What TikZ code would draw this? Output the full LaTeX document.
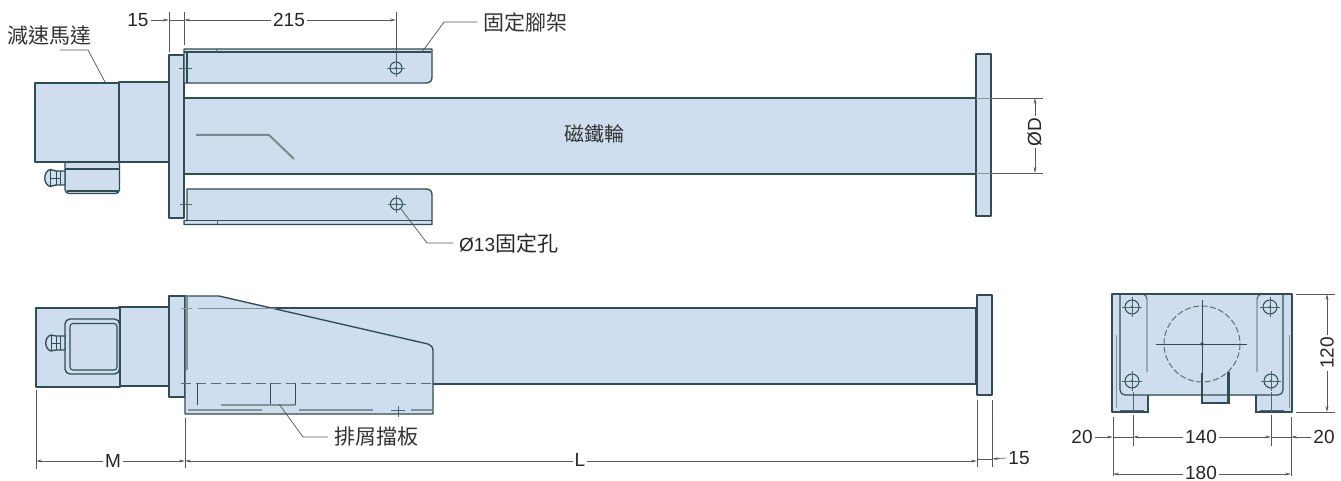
\documentclass[tikz,border=0pt]{standalone}
\usepackage{fontspec}
\setmainfont{Liberation Sans}
\newfontfamily\cjk{Noto Sans CJK TC}
\usetikzlibrary{arrows.meta}
\definecolor{bodyblue}{HTML}{CFDEEF}
\definecolor{edge}{HTML}{2F4D53}
\definecolor{dimc}{HTML}{555A5C}
\tikzset{
  part/.style={draw=edge,fill=bodyblue,line width=1.35pt,line join=round},
  edgeline/.style={draw=edge,line width=1.2pt},
  thin part/.style={draw=edge,line width=.9pt},
  hidden/.style={draw=edge!80!white,line width=1pt,dash pattern=on 7pt off 3pt},
  greyline/.style={draw=edge!60!white,line width=1.2pt},
  centre/.style={draw=edge!85!white,line width=.7pt},
  ext/.style={draw=dimc,line width=.65pt},
  dimn/.style={draw=dimc,line width=.65pt,{Stealth[length=6pt,width=2.8pt]}-{Stealth[length=6pt,width=2.8pt]}},
  dimr/.style={draw=dimc,line width=.65pt,-{Stealth[length=6pt,width=2.8pt]}},
  lead/.style={draw=dimc,line width=.75pt},
  lab/.style={font=\fontsize{19}{19}\selectfont,text=black!85,inner sep=2pt},
  dimlab/.style={lab,fill=white},
  cjklab/.style={font=\cjk\fontsize{21}{21}\selectfont,text=black!80,inner sep=0pt,anchor=west},
  hole/.style={draw=edge,line width=1pt},
}
\newcommand{\holemark}[3]{%
  \draw[hole] (#1,#2) circle (#3);
  \fill[edge] (#1,#2) circle (1.4);
  \draw[centre] (#1-#3-3,#2) -- (#1+#3+3,#2) (#1,#2-#3-3) -- (#1,#2+#3+3);
}
\begin{document}
\begin{tikzpicture}[x=1pt,y=-1pt]
\useasboundingbox[fill=white] (0,0) rectangle (1341,481);

%% ---------- plan view ----------
% junction box
\draw[part,rounded corners=4pt] (65,160) -- (65,193.5) -- (119.5,193.5) -- (119.5,160);
\draw[edgeline] (65,169) -- (119,169);
\draw[edgeline] (67,191) -- (118,191);
% motor
\draw[part] (119,82) rectangle (169,162);
\draw[part] (35,83) rectangle (119,162);
% plug
\draw[part] (65,171) -- (56,171) -- (50,169.5) .. controls (43,172) and (43,184) .. (50,186.5) -- (56,185) -- (65,185) -- cycle;
\draw[thin part] (50,170) -- (50,186) (56,171) -- (56,185) (60,171) -- (60,185) (50,178) -- (60,178);
% wheel
\draw[part] (184,98) rectangle (976,174);
% flanges
\draw[part] (169,55) rectangle (184,218);
\draw[part] (976,54) rectangle (991,216);
\draw[greyline,line width=.9pt] (976,98) -- (991,98) (976,173) -- (991,173);
% brackets
\draw[part] (184,49) -- (432,49) -- (432,77) .. controls (432,81) and (430,83) .. (426,83) -- (184,83) -- cycle;
\draw[edgeline] (184,52) -- (431,52) (187,52) -- (187,83);
\draw[part] (187,189) -- (426,189) .. controls (430,189) and (432,191) .. (432,195) -- (432,224.5) -- (184,224.5) -- (184,220.5) -- (187,220.5) -- cycle;
\draw[edgeline] (187,220.5) -- (432,220.5);
\draw[centre] (179,68) -- (192,68) (180,204) -- (192,204) (216,49) -- (216,52) (217,220) -- (217,224);
\holemark{396}{68}{6}
\holemark{396.5}{204}{6}
% wear line
\draw[draw=edge!65!white,line width=2pt] (196,135) -- (269,135) -- (294,159);

%% ---------- side view ----------
\draw[part] (119,307) rectangle (169,386);
\draw[part] (36,308) rectangle (120,387);
\draw[part,rounded corners=5pt] (65,319) rectangle (119.5,374);
\draw[draw=edge,fill=bodyblue,line width=1.1pt,rounded corners=3pt] (70,323.5) rectangle (117,370);
\draw[part] (65,336) -- (56,336) -- (51,335) .. controls (44,337) and (44,349) .. (51,351) -- (56,350) -- (65,350) -- cycle;
\draw[thin part] (51,335) -- (51,351) (56,336) -- (56,350) (60,336) -- (60,350) (51,343) -- (60,343);
\draw[part] (185,308) rectangle (976,384);
\draw[part] (977,295) rectangle (992,395);
\draw[part] (169,296) rectangle (185,397);
\draw[part] (185,296) -- (219,296) -- (428,344) .. controls (431,345) and (433,347) .. (433,351) -- (433,414) -- (185,414) -- cycle;
\draw[hidden,dash pattern=on 10pt off 5pt] (181,383) -- (433,383);
\draw[greyline,line width=1pt] (181,308) -- (192,308) (198,308) -- (276,308);
\draw[greyline] (187,297) -- (187,370);
\draw[edgeline,line width=1pt] (197,383) -- (197,405) (270,383) -- (270,405) (295,383) -- (295,405);
\draw[greyline] (221,405) -- (295,405) (188,410) -- (262,410) (299,410) -- (373,410) (411,410) -- (432,410);
\draw[centre] (398,406) -- (398,417) (391,410) -- (405,410);

%% ---------- end view ----------
\draw[part] (1112,294) rectangle (1292,412);
\draw[draw=none,fill=white] (1148.7,396) rectangle (1255.3,413.5);
\draw[draw=edge,line width=1.2pt] (1148,412) -- (1148,395) (1256,412) -- (1256,395);
\draw[part,fill=none,line width=1.2pt,rounded corners=5pt] (1120,294) -- (1120,395) -- (1283,395) -- (1283,294);
\draw[edgeline,line width=1.35pt] (1112,294) -- (1292,294);
\fill[bodyblue] (1202,396) rectangle (1228,403);
\draw[edgeline] (1202,373) -- (1202,403) -- (1229,403) -- (1229,372);
\draw[edgeline,line width=1.5pt] (1228,372) -- (1228,403);
\draw[thin part,rounded corners=5pt] (1138,294) -- (1147,294) -- (1147,372);
\draw[thin part,rounded corners=5pt] (1266,294) -- (1257,294) -- (1257,372);
\draw[greyline,line width=.8pt] (1116,335) -- (1116,408) (1289,335) -- (1289,408);
\draw[draw=edge!80!white,line width=1pt,dash pattern=on 6pt off 2.5pt] (1202,344) circle (38);
\draw[edgeline,line width=1pt] (1156,344) -- (1247,344) (1202,300) -- (1202,373);
\fill[edge] (1202,344) circle (1.8);
\holemark{1132}{307}{7}
\holemark{1270}{307}{7}
\holemark{1132}{381}{7}
\holemark{1271}{381}{7}
\draw[centre] (1133,392) -- (1133,412) (1271,392) -- (1271,412) (1120,410) -- (1144,410) (1260,410) -- (1284,410);

%% ---------- dimensions: plan view ----------
\draw[ext] (169,12) -- (169,52) (184,12) -- (184,45) (396,12) -- (396,62);
\node[lab] (d15a) at (138,20) {15};
\draw[dimr] (d15a.east) -- (169,20);
\draw[ext] (169,20) -- (184,20);
\draw[dimn] (184,20) -- (396,20);
\node[dimlab] (d215) at (289,20) {215};
\draw[ext] (991,98) -- (1043,98) (991,173) -- (1043,173);
\draw[dimn] (1035,98) -- (1035,173);
\node[dimlab,rotate=90] (dphi) at (1034.5,132) {ØD};

%% ---------- dimensions: side view ----------
\draw[ext] (36,390) -- (36,469) (185,418) -- (185,468) (977,400) -- (977,467) (992,400) -- (992,467);
\draw[dimn] (36,461) -- (185,461);
\node[dimlab] (dm) at (113,461) {M};
\draw[dimn] (185,461) -- (977,461);
\node[dimlab] (dl) at (580,460) {L};
\node[lab] (d15b) at (1019,458) {15};
\draw[ext] (977,459) -- (992,459);
\draw[ext,{Stealth[length=6pt,width=2.8pt]}-] (992,459) -- (d15b.west);

%% ---------- dimensions: end view ----------
\draw[ext] (1296,294) -- (1335,294) (1296,412) -- (1335,412);
\draw[dimn] (1327,294) -- (1327,412);
\node[dimlab,rotate=90] (d120) at (1327,353) {120};
\draw[ext] (1113,417) -- (1113,476) (1133,415) -- (1133,446) (1271,415) -- (1271,446) (1291,417) -- (1291,476);
\node[lab] (d20a) at (1082,437) {20};
\draw[dimr] (d20a.east) -- (1113,437);
\draw[ext] (1113,437) -- (1133,437);
\draw[dimn] (1133,437) -- (1271,437);
\node[dimlab] (d140) at (1201,437) {140};
\node[lab] (d20b) at (1324,437) {20};
\draw[ext] (1271,437) -- (1291,437);
\draw[dimr] (d20b.west) -- (1291,437);
\draw[dimn] (1113,474) -- (1291,474);
\node[dimlab,inner ysep=0pt] (d180) at (1201,472.5) {180};

%% ---------- labels and leaders ----------
\node[cjklab] (lmotor) at (7,36) {減速馬達};
\coordinate (pmotor) at (105,82);
\draw[lead] (60,50) -- (88,50) -- (pmotor);
\node[cjklab] (lfoot) at (483,22) {固定腳架};
\coordinate (pfoot) at (422,52);
\draw[lead] (lfoot.west) ++(-6,0) -- (444,22) -- (pfoot);
\node[lab,anchor=west,inner sep=0pt] (lhole) at (459,243) {Ø13\cjk\fontsize{21}{21}\selectfont 固定孔};
\coordinate (phole) at (401,209);
\draw[lead] (lhole.west) ++(-6,0) -- (427,243) -- (phole);
\node[cjklab] (lplate) at (334,437) {排屑擋板};
\coordinate (pplate) at (279,404);
\draw[lead] (lplate.west) ++(-6,0) -- (303,437) -- (pplate);
\node[cjklab,anchor=center,font=\cjk\fontsize{20}{20}\selectfont] (lwheel) at (594,134) {磁鐵輪};
\end{tikzpicture}
\end{document}
